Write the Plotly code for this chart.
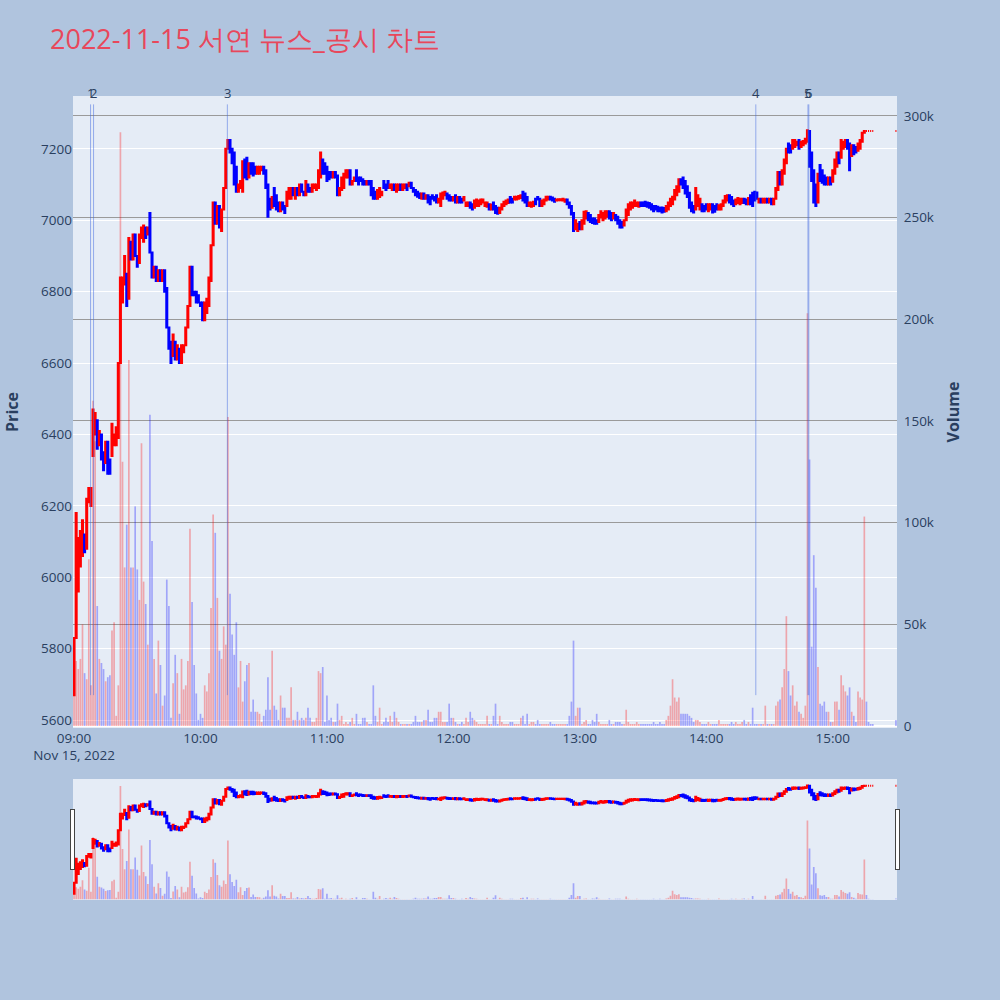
import pandas as pd
import plotly.graph_objects as go

DATE = "2022-11-15"
TITLE = "2022-11-15 서연 뉴스_공시 차트"

# ---- minute candles (open / close) and volume (in thousands) per hour ----
open_09 = [5670, 5830, 5960, 6030, 6060, 6120, 6080, 6210, 6200, 6340,
           6400, 6440, 6370, 6400, 6350, 6320, 6380, 6330, 6340, 6370,
           6370, 6390, 6600, 6770, 6820, 6850, 6780, 6940, 6890, 6960,
           6900, 6880, 6950, 6940, 6980, 6960, 7020, 6910, 6840, 6870,
           6830, 6860, 6830, 6860, 6810, 6700, 6660, 6620, 6660, 6610,
           6640, 6600, 6630, 6650, 6700, 6760, 6870, 6800, 6800, 6790]
close_09 = [5830, 6180, 6110, 6130, 6160, 6070, 6220, 6250, 6250, 6470,
            6460, 6360, 6410, 6330, 6300, 6380, 6290, 6290, 6430, 6400,
            6420, 6600, 6840, 6840, 6900, 6760, 6950, 6890, 6960, 6900,
            6870, 6960, 6980, 6985, 6950, 6980, 6910, 6840, 6870, 6830,
            6860, 6830, 6860, 6800, 6700, 6640, 6600, 6680, 6610, 6650,
            6600, 6650, 6650, 6700, 6760, 6870, 6790, 6790, 6770, 6770]
vol_09 = [15, 32, 28, 33, 50, 26, 23, 82, 20, 160,
          140, 59, 33, 31, 28, 22, 24, 25, 47, 51,
          5, 20, 292, 130, 78, 99, 180, 78, 78, 108,
          77, 62, 139, 71, 60, 40, 153, 91, 33, 16,
          42, 30, 10, 15, 72, 59, 4, 21, 35, 26,
          6, 33, 18, 20, 32, 97, 61, 30, 16, 3]

open_10 = [6770, 6770, 6720, 6740, 6760, 6830, 6930, 7050, 6990, 7040,
           6970, 7030, 7090, 7200, 7225, 7200, 7190, 7150, 7080, 7090,
           7080, 7170, 7175, 7120, 7160, 7160, 7150, 7130, 7130, 7140,
           7150, 7140, 7100, 7060, 7035, 7090, 7070, 7050, 7025, 7050,
           7040, 7040, 7060, 7060, 7090, 7060, 7090, 7070, 7100, 7080,
           7070, 7100, 7090, 7080, 7090, 7085, 7090, 7120, 7170, 7160]
close_10 = [6760, 6720, 6770, 6780, 6840, 6930, 7050, 6990, 7040, 6980,
            7030, 7090, 7200, 7225, 7190, 7160, 7100, 7080, 7100, 7110,
            7165, 7120, 7115, 7160, 7130, 7125, 7130, 7150, 7150, 7150,
            7130, 7090, 7010, 7030, 7065, 7040, 7030, 7025, 7050, 7030,
            7020, 7080, 7090, 7090, 7070, 7090, 7070, 7100, 7080, 7070,
            7110, 7080, 7080, 7100, 7100, 7100, 7140, 7190, 7130, 7130]
vol_10 = [6, 4, 20, 17, 26, 58, 104, 95, 63, 37,
          33, 49, 40, 152, 65, 45, 35, 51, 19, 32,
          12, 22, 30, 31, 7, 13, 7, 7, 6, 2,
          5, 8, 24, 8, 37, 10, 8, 3, 15, 9,
          9, 4, 4, 19, 3, 3, 7, 3, 4, 3,
          4, 9, 4, 2, 2, 4, 27, 26, 29, 2]

open_11 = [7150, 7135, 7135, 7120, 7135, 7125, 7070, 7085, 7090, 7120,
           7120, 7140, 7100, 7110, 7140, 7120, 7120, 7115, 7110, 7100,
           7110, 7110, 7090, 7080, 7060, 7065, 7070, 7110, 7100, 7110,
           7090, 7085, 7100, 7080, 7085, 7100, 7085, 7090, 7100, 7095,
           7105, 7090, 7085, 7080, 7075, 7060, 7075, 7060, 7070, 7065,
           7070, 7065, 7070, 7050, 7040, 7060, 7070, 7075, 7070, 7065]
close_11 = [7110, 7115, 7120, 7135, 7120, 7070, 7090, 7120, 7130, 7140,
            7140, 7100, 7110, 7120, 7110, 7100, 7110, 7100, 7100, 7110,
            7100, 7070, 7060, 7060, 7085, 7090, 7080, 7090, 7085, 7090,
            7100, 7100, 7085, 7100, 7100, 7085, 7100, 7100, 7085, 7105,
            7090, 7080, 7070, 7066, 7062, 7075, 7060, 7070, 7050, 7045,
            7060, 7055, 7050, 7060, 7075, 7078, 7080, 7060, 7055, 7055]
vol_11 = [15, 3, 4, 2, 2, 11, 3, 5, 1, 2,
          1, 2, 4, 1, 6, 1, 1, 4, 4, 2,
          1, 1, 20, 5, 2, 9, 1, 2, 4, 2,
          5, 2, 7, 4, 2, 1, 1, 1, 1, 1,
          1, 2, 5, 2, 2, 2, 3, 3, 8, 2,
          2, 4, 4, 7, 7, 2, 2, 2, 11, 4]

open_12 = [7055, 7070, 7050, 7065, 7060, 7055, 7040, 7040, 7050, 7045,
           7035, 7040, 7040, 7045, 7050, 7040, 7038, 7045, 7030, 7050,
           7040, 7035, 7020, 7030, 7040, 7045, 7048, 7065, 7060, 7058,
           7058, 7060, 7062, 7080, 7075, 7065, 7040, 7038, 7040, 7060,
           7065, 7060, 7040, 7045, 7055, 7058, 7066, 7064, 7060, 7055,
           7056, 7056, 7055, 7052, 7058, 7050, 7040, 7020, 6975, 6970]
close_12 = [7065, 7050, 7065, 7050, 7050, 7065, 7050, 7050, 7035, 7030,
            7055, 7058, 7055, 7058, 7058, 7050, 7050, 7030, 7044, 7030,
            7020, 7018, 7035, 7045, 7052, 7055, 7058, 7050, 7050, 7066,
            7066, 7068, 7070, 7055, 7050, 7040, 7050, 7050, 7052, 7045,
            7058, 7040, 7055, 7058, 7066, 7066, 7058, 7055, 7052, 7058,
            7059, 7059, 7060, 7058, 7045, 7035, 7016, 6970, 7000, 6990]
vol_12 = [4, 2, 1, 1, 2, 1, 4, 2, 7, 4,
          3, 2, 1, 1, 1, 1, 5, 1, 1, 5,
          11, 1, 5, 2, 1, 1, 1, 2, 2, 1,
          1, 1, 4, 5, 1, 6, 1, 2, 2, 1,
          3, 1, 1, 1, 1, 1, 2, 1, 1, 1,
          1, 1, 1, 1, 1, 5, 12, 42, 5, 9]

open_13 = [6995, 6975, 6990, 7005, 7020, 7015, 7005, 7005, 7000, 6995,
           7008, 7000, 7005, 7010, 7025, 7020, 7005, 7015, 7010, 7000,
           6995, 6985, 7000, 7015, 7030, 7035, 7040, 7040, 7038, 7050,
           7050, 7052, 7050, 7048, 7045, 7040, 7040, 7038, 7035, 7036,
           7034, 7025, 7030, 7040, 7045, 7058, 7070, 7080, 7115, 7120,
           7110, 7095, 7077, 7050, 7040, 7030, 7040, 7030, 7045, 7040]
close_13 = [6975, 7000, 7024, 7025, 7000, 6995, 6992, 6990, 6990, 7015,
            7025, 7020, 7025, 7025, 7005, 7000, 7020, 7000, 6990, 6980,
            6980, 7000, 7030, 7045, 7050, 7050, 7055, 7050, 7050, 7040,
            7040, 7040, 7038, 7035, 7030, 7025, 7030, 7025, 7025, 7022,
            7024, 7040, 7050, 7060, 7066, 7085, 7095, 7115, 7100, 7090,
            7075, 7065, 7035, 7025, 7022, 7090, 7070, 7060, 7025, 7025]
vol_13 = [9, 1, 2, 3, 1, 1, 3, 2, 6, 2,
          1, 1, 1, 1, 3, 1, 1, 2, 2, 2,
          1, 1, 8, 2, 1, 1, 1, 2, 1, 1,
          1, 1, 1, 1, 1, 2, 1, 1, 2, 1,
          1, 3, 5, 10, 23, 14, 12, 14, 6, 6,
          6, 6, 5, 4, 2, 3, 3, 2, 1, 1]

open_14 = [7045, 7025, 7030, 7045, 7040, 7045, 7030, 7030, 7040, 7050,
           7055, 7070, 7065, 7055, 7045, 7048, 7045, 7048, 7060, 7058,
           7045, 7070, 7077, 7080, 7078, 7050, 7060, 7050, 7050, 7060,
           7050, 7060, 7045, 7060, 7085, 7135, 7100, 7130, 7160, 7215,
           7210, 7200, 7205, 7210, 7225, 7205, 7210, 7215, 7220, 7250,
           7190, 7140, 7100, 7050, 7155, 7140, 7125, 7120, 7100, 7120]
close_14 = [7030, 7045, 7045, 7022, 7024, 7030, 7042, 7045, 7055, 7068,
            7070, 7050, 7045, 7040, 7058, 7062, 7060, 7060, 7048, 7045,
            7062, 7045, 7040, 7055, 7060, 7060, 7050, 7060, 7060, 7050,
            7060, 7045, 7060, 7090, 7135, 7100, 7140, 7170, 7200, 7190,
            7190, 7225, 7225, 7220, 7200, 7220, 7222, 7228, 7252, 7150,
            7110, 7050, 7040, 7130, 7110, 7105, 7100, 7100, 7120, 7100]
vol_14 = [1, 2, 1, 1, 1, 1, 3, 1, 1, 1,
          1, 1, 2, 1, 2, 1, 1, 2, 3, 1,
          2, 1, 9, 1, 1, 1, 1, 1, 10, 1,
          1, 1, 1, 10, 12, 13, 19, 28, 54, 27,
          15, 20, 10, 12, 7, 6, 4, 10, 203, 131,
          39, 84, 68, 29, 11, 10, 12, 7, 7, 2]

minutes_15 = [0, 1, 2, 3, 4, 5, 6, 7, 8, 9, 10, 11, 12, 13, 14, 15, 16, 17, 18, 19, 30]
open_15 = [7108, 7130, 7150, 7190, 7175, 7200, 7205, 7225, 7215, 7180,
           7210, 7205, 7195, 7200, 7220, 7245, 7250, 7250, 7250, 7250, 7250]
close_15 = [7140, 7170, 7190, 7160, 7225, 7220, 7225, 7200, 7140, 7210,
            7185, 7190, 7215, 7225, 7245, 7250, 7250, 7250, 7250, 7250, 7250]
vol_15 = [2, 12, 12, 8, 25, 20, 17, 15, 19, 7,
          5, 2, 17, 14, 13, 103, 12, 2, 1, 1, 3]

# ---- news / disclosure events ----
news_times = ["09:07:50", "09:09:15", "10:12:45", "14:23:30", "14:48:15", "14:48:40"]
news_labels = ["1", "2", "3", "4", "5", "6"]

# ---- assemble ----
full_hour = list(range(60))
blocks = [
    (9, full_hour, open_09, close_09, vol_09),
    (10, full_hour, open_10, close_10, vol_10),
    (11, full_hour, open_11, close_11, vol_11),
    (12, full_hour, open_12, close_12, vol_12),
    (13, full_hour, open_13, close_13, vol_13),
    (14, full_hour, open_14, close_14, vol_14),
    (15, minutes_15, open_15, close_15, vol_15),
]
times, opens, closes, vols = [], [], [], []
for hour, mins, o_list, c_list, v_list in blocks:
    for mm, o, c, v in zip(mins, o_list, c_list, v_list):
        times.append(pd.Timestamp(f"{DATE} {hour:02d}:{mm:02d}:00"))
        opens.append(o)
        closes.append(c)
        vols.append(v * 1000)
highs = [max(o, c) for o, c in zip(opens, closes)]
lows = [min(o, c) for o, c in zip(opens, closes)]
vol_colors = ["rgba(255,0,0,0.3)" if c > o else "rgba(0,0,255,0.3)" for o, c in zip(opens, closes)]

fig = go.Figure()
fig.add_trace(go.Bar(
    x=times, y=vols, marker=dict(color=vol_colors, line=dict(width=0)),
    yaxis="y", name="Volume", showlegend=False,
))
fig.add_trace(go.Candlestick(
    x=times, open=opens, high=highs, low=lows, close=closes,
    increasing=dict(line=dict(color="red", width=2), fillcolor="red"),
    decreasing=dict(line=dict(color="blue", width=2), fillcolor="blue"),
    yaxis="y2", name="Price", showlegend=False,
))

line_bottom = min(lows)
line_top = max(highs) * 1.01
shapes, annotations = [], []
for t, lab in zip(news_times, news_labels):
    ts = f"{DATE} {t}"
    shapes.append(dict(type="line", xref="x", yref="y2", x0=ts, x1=ts,
                       y0=line_bottom, y1=line_top,
                       line=dict(color="rgba(65,105,225,0.5)", width=1)))
    annotations.append(dict(x=ts, y=line_top, xref="x", yref="y2", text=lab,
                            showarrow=False, yanchor="bottom",
                            font=dict(size=13, color="#2a3f5f")))

fig.update_layout(
    width=1000, height=1000,
    template="plotly",
    font=dict(size=13.5),
    paper_bgcolor="#B0C4DE",
    plot_bgcolor="#E5ECF6",
    title=dict(text=TITLE, x=0.05, xanchor="left", y=0.96, yanchor="middle",
               font=dict(size=27, color="#E8475B")),
    margin=dict(l=72, r=103, t=96, b=100),
    showlegend=False,
    shapes=shapes,
    annotations=annotations,
    xaxis=dict(type="date",
               range=[f"{DATE} 08:59:30", f"{DATE} 15:30:30"],
               rangeslider=dict(visible=True, thickness=0.15, bgcolor="#E5ECF6")),
    yaxis=dict(side="right", range=[-980, 309800],
               title=dict(text="<b>Volume</b>", font=dict(size=16), standoff=14),
               ticks="outside", ticklen=3, tickcolor="rgba(0,0,0,0)",
               showgrid=True, gridcolor="#9a9a9a"),
    yaxis2=dict(overlaying="y", side="left", range=[5578, 7348],
                title=dict(text="<b>Price</b>", font=dict(size=16), standoff=18),
                showgrid=True, gridcolor="white"),
)

fig.write_html("out.html", config={"displayModeBar": False},
               post_script="document.body.style.margin='0px';")
